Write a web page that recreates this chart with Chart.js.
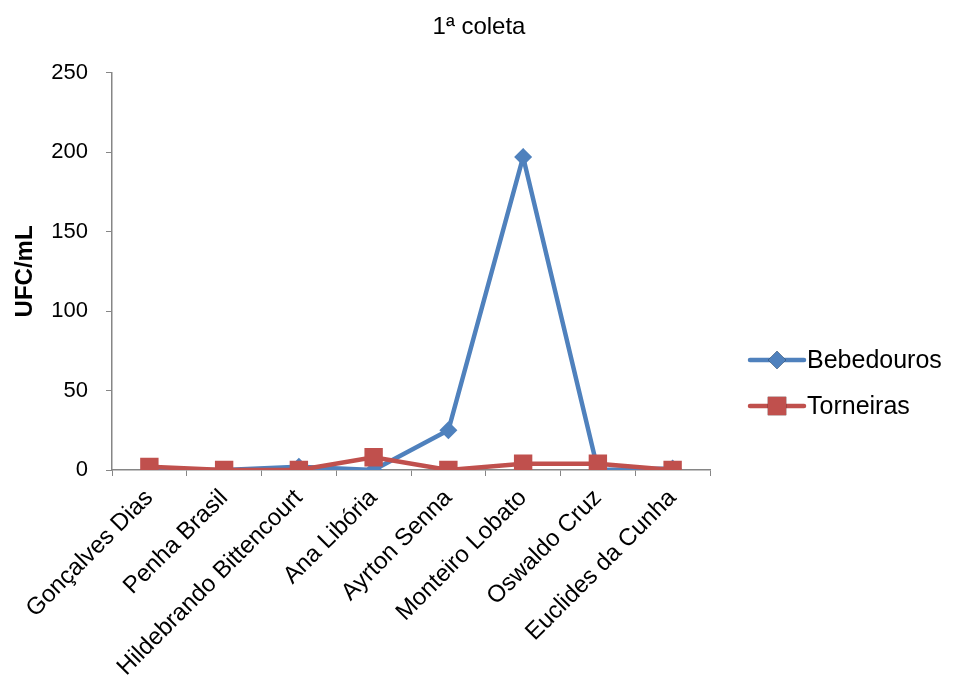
<!DOCTYPE html>
<html>
<head>
<meta charset="utf-8">
<script src="https://cdn.jsdelivr.net/npm/chart.js@4.4.1/dist/chart.umd.min.js"></script>
<style>
  html, body { margin: 0; padding: 0; background: #fff; }
  #wrap { width: 958px; height: 695px; }
</style>
</head>
<body>
<div id="wrap"><canvas id="chart" width="958" height="695"></canvas></div>
<script>
// --- data ---
const schools = ['Gonçalves Dias', 'Penha Brasil', 'Hildebrando Bittencourt', 'Ana Libória',
                 'Ayrton Senna', 'Monteiro Lobato', 'Oswaldo Cruz', 'Euclides da Cunha'];
const bebedouros = [0, 0, 2, 0, 25, 197, 0, 1];
const torneiras = [2, 0, 0, 8, 0, 4, 4, 0];
const yTicks = [0, 50, 100, 150, 200, 250];

const FONT = 'Liberation Sans, Arial, sans-serif';
const BLUE = '#4F81BD';
const RED = '#C0504D';
const AXIS = '#868686';

// legend drawn as line + marker, like the original
const lineLegend = {
    id: 'lineLegend',
    afterDraw(chart) {
        const ctx = chart.ctx;
        const area = chart.chartArea;
        const x0 = area.right + 40;
        chart.data.datasets.forEach((ds, i) => {
            const y = area.bottom - 110 + i * 46;
            ctx.save();
            ctx.strokeStyle = ds.borderColor;
            ctx.lineWidth = 4.5;
            ctx.lineCap = 'round';
            ctx.beginPath();
            ctx.moveTo(x0, y);
            ctx.lineTo(x0 + 54, y);
            ctx.stroke();
            Chart.helpers.drawPoint(ctx, {
                pointStyle: ds.pointStyle,
                radius: ds.pointRadius,
                borderWidth: 0
            }, x0 + 27, y);
            ctx.fillStyle = ds.backgroundColor;
            ctx.fill();
            ctx.fillStyle = '#000';
            ctx.font = '25px ' + FONT;
            ctx.textBaseline = 'middle';
            ctx.fillText(ds.label, x0 + 57, y + 1);
            ctx.restore();
        });
    }
};

new Chart(document.getElementById('chart'), {
    type: 'line',
    data: {
        labels: schools,
        datasets: [{
            label: 'Bebedouros',
            data: bebedouros,
            borderColor: BLUE,
            backgroundColor: BLUE,
            borderWidth: 4.5,
            pointStyle: 'rectRot',
            pointRadius: 9,
            pointBorderWidth: 0,
            tension: 0,
            order: 1
        }, {
            label: 'Torneiras',
            data: torneiras,
            borderColor: RED,
            backgroundColor: RED,
            borderWidth: 4.5,
            pointStyle: 'rect',
            pointRadius: 13,
            pointBorderWidth: 0,
            tension: 0,
            order: 0
        }]
    },
    options: {
        responsive: false,
        animation: false,
        plugins: {
            legend: { display: false },
            tooltip: { enabled: false },
            title: {
                display: true,
                text: '1ª coleta',
                color: '#000',
                font: { family: FONT, size: 24, weight: 'normal' },
                padding: { top: 13, bottom: 31 }
            }
        },
        scales: {
            x: {
                offset: true,
                grid: {
                    offset: true,
                    drawOnChartArea: false,
                    drawTicks: true,
                    tickLength: 6,
                    color: AXIS
                },
                border: { color: AXIS, width: 1.5 },
                ticks: {
                    autoSkip: false,
                    maxRotation: 45,
                    minRotation: 45,
                    color: '#000',
                    padding: 8,
                    font: { family: FONT, size: 24 }
                },
                afterFit(scale) { scale.height = 225; }
            },
            y: {
                min: 0,
                max: 250,
                afterBuildTicks(scale) { scale.ticks = yTicks.map(v => ({ value: v })); },
                grid: {
                    drawOnChartArea: false,
                    drawTicks: true,
                    tickLength: 6,
                    color: AXIS
                },
                border: { color: AXIS, width: 1.5 },
                ticks: {
                    color: '#000',
                    padding: 18,
                    font: { family: FONT, size: 22 }
                },
                title: {
                    display: true,
                    text: 'UFC/mL',
                    color: '#000',
                    font: { family: FONT, size: 24, weight: 'bold' },
                    padding: { top: 11, bottom: 0 }
                },
                afterFit(scale) { scale.width = 112; }
            },
            // empty axis on the right, only reserves room for the legend
            side: {
                type: 'linear',
                position: 'right',
                display: true,
                grid: { display: false, drawTicks: false },
                border: { display: false },
                ticks: { display: false },
                afterFit(scale) { scale.width = 248; }
            }
        }
    },
    plugins: [lineLegend]
});
</script>
</body>
</html>
